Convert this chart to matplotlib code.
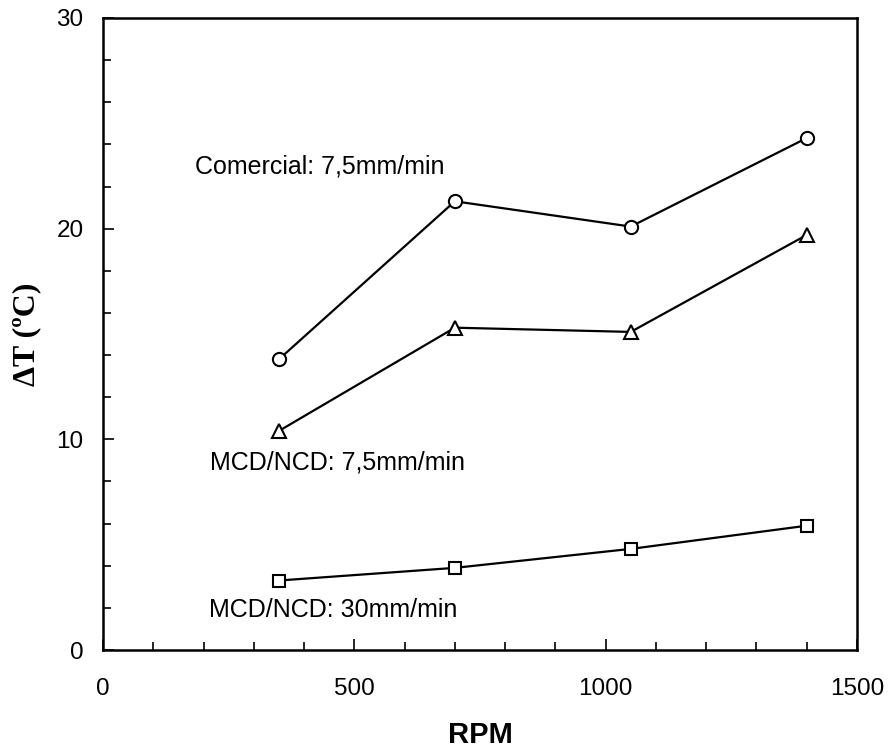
import matplotlib
matplotlib.use("Agg")
import matplotlib.pyplot as plt
from matplotlib.ticker import MultipleLocator

rpm = [350, 700, 1050, 1400]
dt_comercial = [13.8, 21.3, 20.1, 24.3]
dt_mcd_75 = [10.4, 15.3, 15.1, 19.7]
dt_mcd_30 = [3.3, 3.9, 4.8, 5.9]

plt.rcParams["font.family"] = ["Liberation Sans", "DejaVu Sans"]

fig = plt.figure(figsize=(8.89, 7.5), dpi=100)
ax = fig.add_axes([0.1159, 0.1333, 0.848, 0.8427])

style = dict(color="black", lw=1.6, mfc="white", mec="black", mew=1.5)
ax.plot(rpm, dt_comercial, marker="o", ms=9.5, **style)
ax.plot(rpm, dt_mcd_75, marker="^", ms=9.5, **style)
ax.plot(rpm, dt_mcd_30, marker="s", ms=8, **style)

ax.set_xlim(0, 1500)
ax.set_ylim(0, 30)
ax.xaxis.set_major_locator(MultipleLocator(500))
ax.xaxis.set_minor_locator(MultipleLocator(100))
ax.yaxis.set_major_locator(MultipleLocator(10))
ax.yaxis.set_minor_locator(MultipleLocator(2))
ax.tick_params(which="both", direction="in", top=False, right=False,
               labelsize=17.5, width=1.2)
ax.tick_params(which="major", length=8)
ax.tick_params(which="minor", length=6)
ax.tick_params(axis="x", pad=20)
ax.tick_params(axis="y", pad=14)
for s in ax.spines.values():
    s.set_linewidth(1.8)

ax.text(183, 22.93, "Comercial: 7,5mm/min", fontsize=18, va="center", ha="left")
ax.text(213, 8.88, "MCD/NCD: 7,5mm/min", fontsize=18, va="center", ha="left")
ax.text(211, 1.90, "MCD/NCD: 30mm/min", fontsize=18, va="center", ha="left")

ax.set_xlabel("RPM", fontsize=21, fontweight="bold")
ax.xaxis.set_label_coords(0.5, -0.113)
ax.set_ylabel("\u0394T (\u00baC)", fontsize=23, fontweight="bold",
              family=["Liberation Serif", "DejaVu Serif"])
ax.yaxis.set_label_coords(-0.082, 0.5)

fig.savefig("out.png", dpi=100)
